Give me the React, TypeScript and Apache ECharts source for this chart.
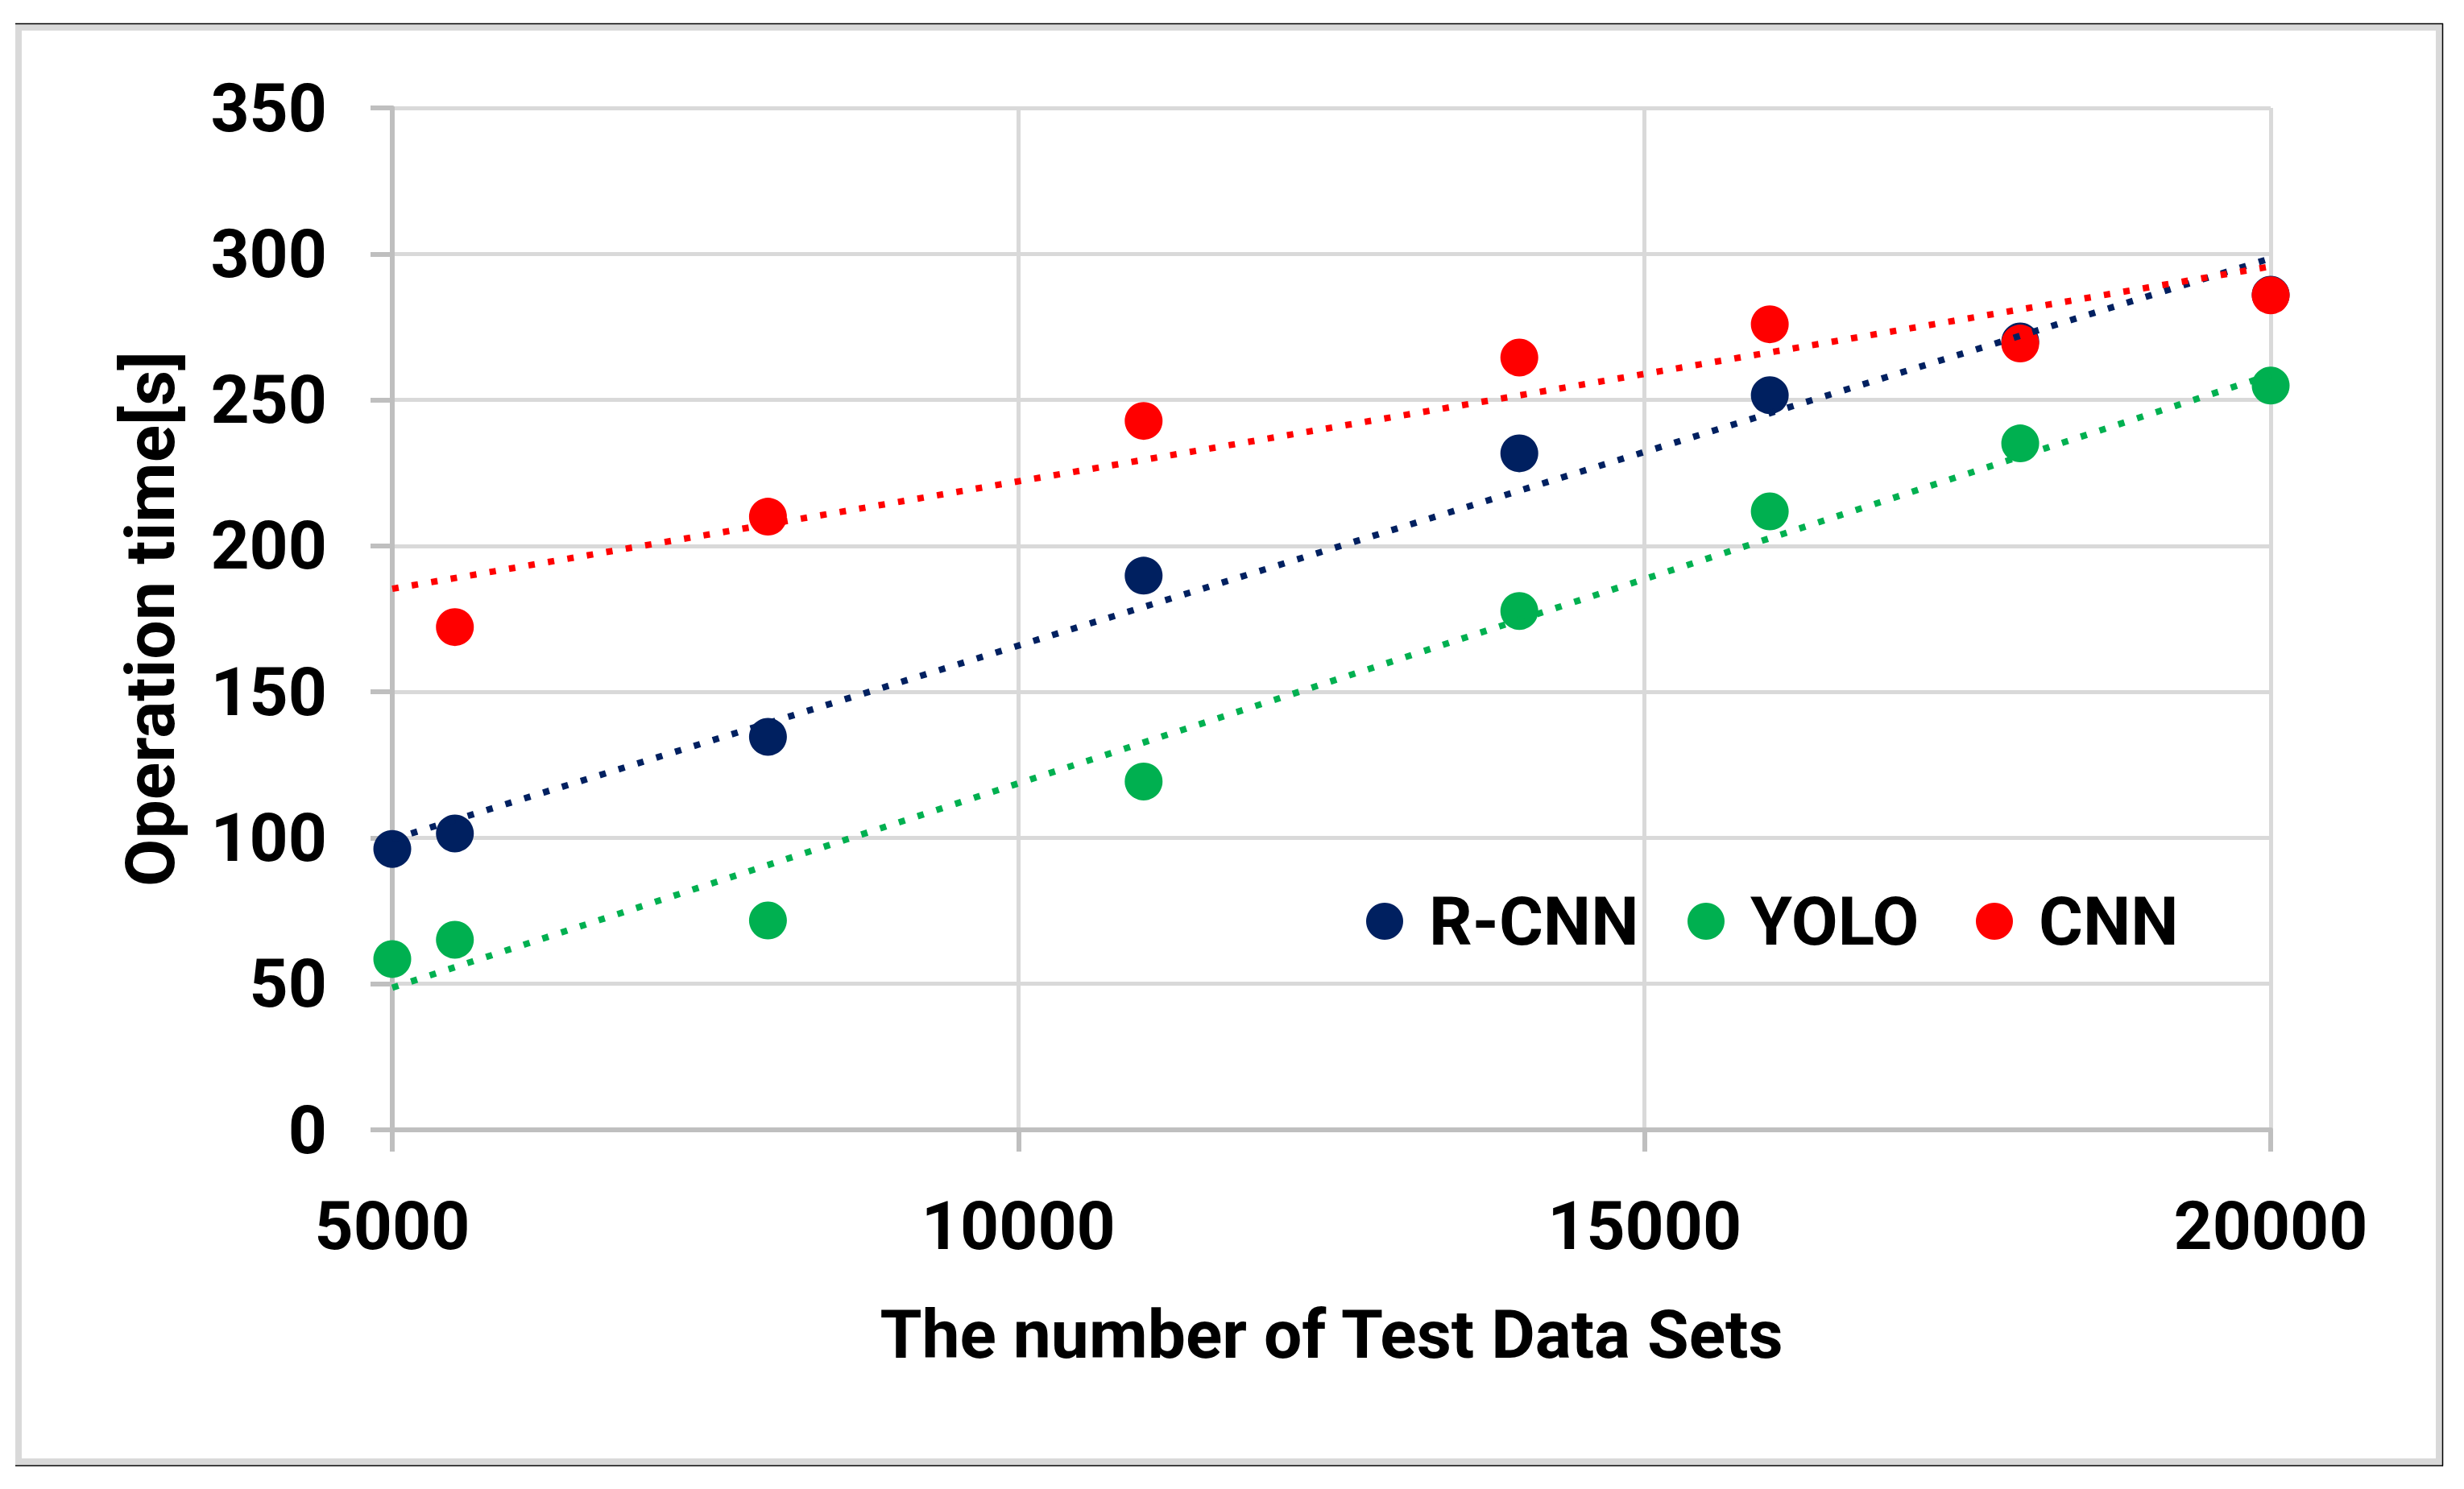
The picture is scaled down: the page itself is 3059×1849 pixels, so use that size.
import React, { useEffect, useRef } from "react";
import * as echarts from "echarts";

const xTicks = [5000, 10000, 15000, 20000];
const yTicks = [0, 50, 100, 150, 200, 250, 300, 350];

const seriesNames = ["R-CNN", "YOLO", "CNN"];
const seriesColors = ["#002060", "#00B050", "#FF0000"];

const rcnnX = [5000, 5500, 8000, 11000, 14000, 16000, 18000, 20000];
const rcnnY = [96.2, 101.5, 134.6, 189.8, 231.7, 251.6, 270, 286];

const yoloX = [5000, 5500, 8000, 11000, 14000, 16000, 18000, 20000];
const yoloY = [58.5, 65.1, 71.7, 119.3, 177.7, 211.8, 235.1, 254.9];

const cnnX = [5500, 8000, 11000, 14000, 16000, 18000, 20000];
const cnnY = [172.2, 210, 242.8, 264.5, 275.9, 269.3, 285.8];

// trend line end points (x = 5000 and x = 20000)
const trendX = [5000, 20000];
const rcnnTrend = [99.5, 298.5];
const yoloTrend = [48.7, 258.6];
const cnnTrend = [185.3, 295.7];

const legendLefts = [1696, 2095, 2453];

const FONT = "Roboto";

function pairs(xs: number[], ys: number[]) {
  return xs.map((x, i) => [x, ys[i]]);
}

export default function App() {
  const ref = useRef<HTMLDivElement>(null);
  useEffect(() => {
    if (!ref.current) return;
    const chart = echarts.init(ref.current, null, { renderer: "svg" });
    const pts = [pairs(rcnnX, rcnnY), pairs(yoloX, yoloY), pairs(cnnX, cnnY)];
    const trends = [rcnnTrend, yoloTrend, cnnTrend];
    const scatter = seriesNames.map((n, i) => ({
      name: n,
      type: "scatter",
      data: pts[i],
      symbol: "circle",
      symbolSize: 47,
      itemStyle: { color: seriesColors[i], opacity: 1 },
      z: 3,
      silent: true,
    }));
    const lines = seriesNames.map((n, i) => ({
      name: n + " trend",
      type: "line",
      data: pairs(trendX, trends[i]),
      symbol: "none",
      showSymbol: false,
      lineStyle: { color: seriesColors[i], width: 8, type: [8, 16.5], cap: "butt" },
      z: 4,
      silent: true,
    }));
    const legends = seriesNames.map((n, i) => ({
      data: [n],
      left: legendLefts[i],
      top: 1102,
      padding: 0,
      icon: "circle",
      itemWidth: 100,
      itemHeight: 46,
      selectedMode: false,
      textStyle: { fontFamily: FONT, fontSize: 84, fontWeight: "bold", color: "#000" },
    }));
    chart.setOption({
      animation: false,
      backgroundColor: "#ffffff",
      grid: { left: 487, right: 240, top: 134, bottom: 446, outerBoundsMode: "none" },
      legend: legends,
      xAxis: {
        type: "value",
        min: xTicks[0],
        max: xTicks[xTicks.length - 1],
        interval: 5000,
        name: "The number of Test Data Sets",
        nameLocation: "middle",
        nameGap: 212,
        nameTextStyle: { fontFamily: FONT, fontSize: 84, fontWeight: "bold", color: "#000" },
        axisLine: { show: true, lineStyle: { color: "#BFBFBF", width: 6 } },
        axisTick: { show: true, length: 27, lineStyle: { color: "#BFBFBF", width: 6 } },
        axisLabel: {
          margin: 77,
          fontFamily: FONT,
          fontSize: 84,
          fontWeight: "bold",
          color: "#000",
          formatter: (v: number) => String(v),
        },
        splitLine: { show: true, lineStyle: { color: "#D9D9D9", width: 5 } },
      },
      yAxis: {
        type: "value",
        min: yTicks[0],
        max: yTicks[yTicks.length - 1],
        interval: 50,
        name: "Operation time[s]",
        nameLocation: "middle",
        nameRotate: 90,
        nameGap: 258,
        nameTextStyle: { fontFamily: FONT, fontSize: 86, fontWeight: "bold", color: "#000" },
        axisLine: { show: true, lineStyle: { color: "#BFBFBF", width: 6 } },
        axisTick: { show: true, length: 27, lineStyle: { color: "#BFBFBF", width: 6 } },
        axisLabel: {
          margin: 81,
          fontFamily: FONT,
          fontSize: 84,
          fontWeight: "bold",
          color: "#000",
          formatter: (v: number) => String(v),
        },
        splitLine: { show: true, lineStyle: { color: "#D9D9D9", width: 5 } },
      },
      graphic: [
        {
          type: "rect",
          shape: { x: 23, y: 34, width: 3005, height: 1781 },
          style: { fill: "none", stroke: "#D9D9D9", lineWidth: 8 },
          silent: true,
        },
        { type: "line", shape: { x1: 19, y1: 29.5, x2: 3033, y2: 29.5 }, style: { stroke: "#000", lineWidth: 1.5 }, silent: true },
        { type: "line", shape: { x1: 3032.5, y1: 29, x2: 3032.5, y2: 1820.5 }, style: { stroke: "#000", lineWidth: 1.5 }, silent: true },
        { type: "line", shape: { x1: 19, y1: 1820, x2: 3033, y2: 1820 }, style: { stroke: "#000", lineWidth: 1.5 }, silent: true },
      ],
      series: [...scatter, ...lines],
    });
    return () => chart.dispose();
  }, []);
  return (
    <div
      ref={ref}
      style={{ position: "absolute", left: 0, top: 0, width: 3059, height: 1849, background: "#fff" }}
    />
  );
}
